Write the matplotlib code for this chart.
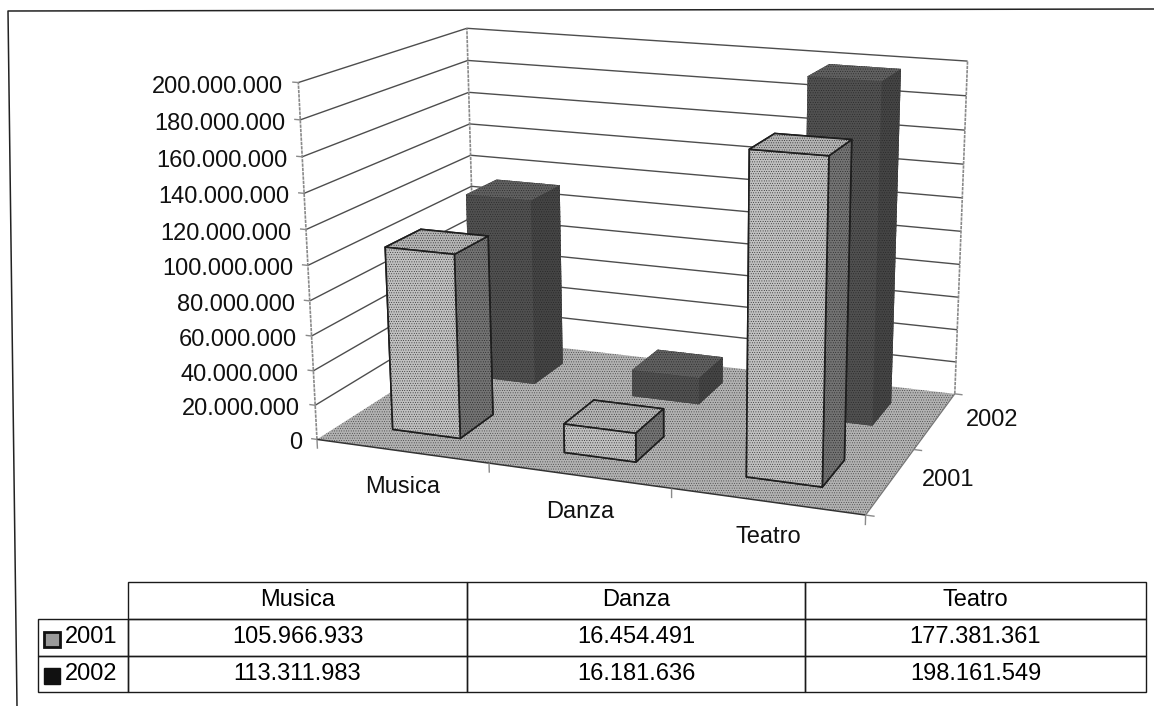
import numpy as np
import matplotlib
matplotlib.use("Agg")
import matplotlib.pyplot as plt
from matplotlib.lines import Line2D
from matplotlib.patches import Rectangle
from matplotlib.table import Table
from mpl_toolkits.mplot3d.art3d import Poly3DCollection, Line3DCollection
from mpl_toolkits.mplot3d import proj3d

plt.rcParams['font.family'] = ['Liberation Sans', 'DejaVu Sans']
plt.rcParams['hatch.linewidth'] = 0.3

categories = ["Musica", "Danza", "Teatro"]
series_names = ["2001", "2002"]
values_2001 = [105966933, 16454491, 177381361]
values_2002 = [113311983, 16181636, 198161549]
table_2001 = ["105.966.933", "16.454.491", "177.381.361"]
table_2002 = ["113.311.983", "16.181.636", "198.161.549"]
z_ticks = [0, 20e6, 40e6, 60e6, 80e6, 100e6, 120e6, 140e6, 160e6, 180e6, 200e6]
z_labels = ["0", "20.000.000", "40.000.000", "60.000.000", "80.000.000", "100.000.000",
            "120.000.000", "140.000.000", "160.000.000", "180.000.000", "200.000.000"]

W, H = 1154, 706
FS = 17
UNIT = 1e8  # vertical world unit

# Camera calibration: world box corners (x, y, z) -> picture pixels
world = np.array([[0, 0, 0], [3, 0, 0], [3, 2, 0], [0, 2, 0],
                  [0, 0, 2], [0, 2, 2], [3, 2, 2]], float)
pix = np.array([[315, 439], [866, 515], [954, 394], [478, 338],
                [300, 83], [465, 28], [968, 61]], float)
A = []
for (x, y, z), (u, v) in zip(world, pix):
    A.append([x, y, z, 1, 0, 0, 0, 0, -u * x, -u * y, -u * z, -u])
    A.append([0, 0, 0, 0, x, y, z, 1, -v * x, -v * y, -v * z, -v])
P = np.linalg.svd(np.array(A))[2][-1].reshape(3, 4)
P = P / P[2, 3]
M = np.vstack([P[0], P[1], [-0.3, 1.0, -0.3, 5.0], P[2]])

fig = plt.figure(figsize=(W / 100, H / 100), dpi=100, facecolor='white')
ax = fig.add_axes([0, 0, 1, 1], projection='3d', computed_zorder=False)
ax.set_axis_off()
ax.apply_aspect = lambda position=None: None
ax.get_proj = lambda: M
ax.M = M
ax.viewLim.intervalx = (0, W)
ax.viewLim.intervaly = (H, 0)
ax.patch.set_visible(False)

FLOOR = '#b2b2b2'
GRID = '#4d4d4d'
AXC = '#8a8a8a'
GRAIN = '.' * 7


def lines3d(segments, color, lw, zorder, ls='solid'):
    ax.add_collection3d(Line3DCollection(segments, colors=color, linewidths=lw,
                                         linestyles=ls, zorder=zorder))


plt.rcParams['hatch.color'] = '#333333'
ax.add_collection3d(Poly3DCollection([[(0, 0, 0), (3, 0, 0), (3, 2, 0), (0, 2, 0)]],
                                     facecolors=FLOOR, edgecolors='none', hatch=GRAIN, zorder=1))
lines3d([[(0, 0, 0), (3, 0, 0)]], '#333333', 1.1, 1.6)
lines3d([[(3, 0, 0), (3, 2, 0)]], '#777777', 0.9, 1.6)

grid_segments = [[(0, 0, t / UNIT), (0, 2, t / UNIT), (3, 2, t / UNIT)] for t in z_ticks[1:]]
lines3d(grid_segments, GRID, 1.0, 0.5)
lines3d([[(-0.035, 0, t / UNIT), (0, 0, t / UNIT)] for t in z_ticks], AXC, 1.0, 0.6)
top = z_ticks[-1] / UNIT
lines3d([[(x, y, 0), (x, y, top)] for x, y in [(0, 0), (0, 2), (3, 2)]], AXC, 1.2, 0.6, (0, (2, 0.6)))
lines3d([[(x, 0, 0), (x, 0, -0.055)] for x in range(4)], AXC, 1.0, 1.6)
lines3d([[(3, y, 0), (3.045, y, 0)] for y in range(3)], AXC, 1.0, 1.6)

BW, BD = 0.40, 0.42
# faces order: bottom, top, -y front, +y back, -x left, +x right
faces_2001 = ['#a0a0a0', '#b4b4b4', '#c0c0c0', '#707070', '#c0c0c0', '#737373']
faces_2002 = ['#484848', '#606060', '#505050', '#404040', '#505050', '#444444']
for j, (vals, faces, ec, lw) in enumerate([(values_2002, faces_2002, 'none', 0),
                                           (values_2001, faces_2001, '#1e1e1e', 1.2)]):
    yc = 1.5 - j
    plt.rcParams['hatch.color'] = '#222222'
    for i, v in enumerate(vals):
        ax.bar3d(i + 0.5 - BW / 2, yc - BD / 2, 0, BW, BD, v / UNIT,
                 color=faces, shade=False, edgecolor=ec, linewidth=lw, hatch=GRAIN,
                 zorder=3 + j + i * 0.1)


def pixel(x, y, z):
    u, v, _ = proj3d.proj_transform(x, y, z, M)
    return float(u), float(v)


def label(txt, xyz, dx, dy, ha):
    ax.annotate(txt, xy=pixel(*xyz), xytext=(dx, -dy), textcoords='offset pixels',
                ha=ha, va='center', fontsize=FS, color='#111111', annotation_clip=False)


for t, s in zip(z_ticks, z_labels):
    label(s, (0, 0, t / UNIT), -15, 4, 'right')
for i, c in enumerate(categories):
    label(c, (i + 0.5, 0, 0), 1, 36, 'center')
for j, s in enumerate(series_names):
    label(s, (3, j + 0.5, 0), 31, -1, 'left')

# Data table
tab = fig.add_axes([0, 0, 1, 1])
tab.set_xlim(0, W)
tab.set_ylim(H, 0)
tab.axis('off')
tab.patch.set_visible(False)
col_x = [38, 128, 467, 805, 1146]
row_y = [582, 618.5, 655.5, 692]
table = Table(tab, bbox=[col_x[0] / W, 1 - row_y[-1] / H, (col_x[-1] - col_x[0]) / W, (row_y[-1] - row_y[0]) / H])
rows = [[""] + categories, [series_names[0]] + table_2001, [series_names[1]] + table_2002]
for r, row in enumerate(rows):
    for c, txt in enumerate(row):
        cell = table.add_cell(r, c, width=col_x[c + 1] - col_x[c], height=row_y[r + 1] - row_y[r],
                              text=txt, loc='left' if c == 0 else 'center',
                              edgecolor='#1a1a1a', facecolor='none')
        cell.set_linewidth(1.0)
        if c == 0:
            cell.PAD = 0.3
        if r == 0 and c == 0:
            cell.visible_edges = ''
table.auto_set_font_size(False)
table.set_fontsize(FS)
tab.add_table(table)
tab.add_patch(Rectangle((44, 632), 16, 15, facecolor='#9a9a9a', edgecolor='#111111', lw=2))
tab.add_patch(Rectangle((44, 668), 16, 16, facecolor='#111111', edgecolor='#111111', lw=1))

# Outer chart frame
frame_x = [1154, 8, 17]
frame_y = [9, 11, 706]
fig.add_artist(Line2D([x / W for x in frame_x], [1 - y / H for y in frame_y],
                      color='#222222', lw=1.1, transform=fig.transFigure))

fig.savefig('out.png', dpi=100)
